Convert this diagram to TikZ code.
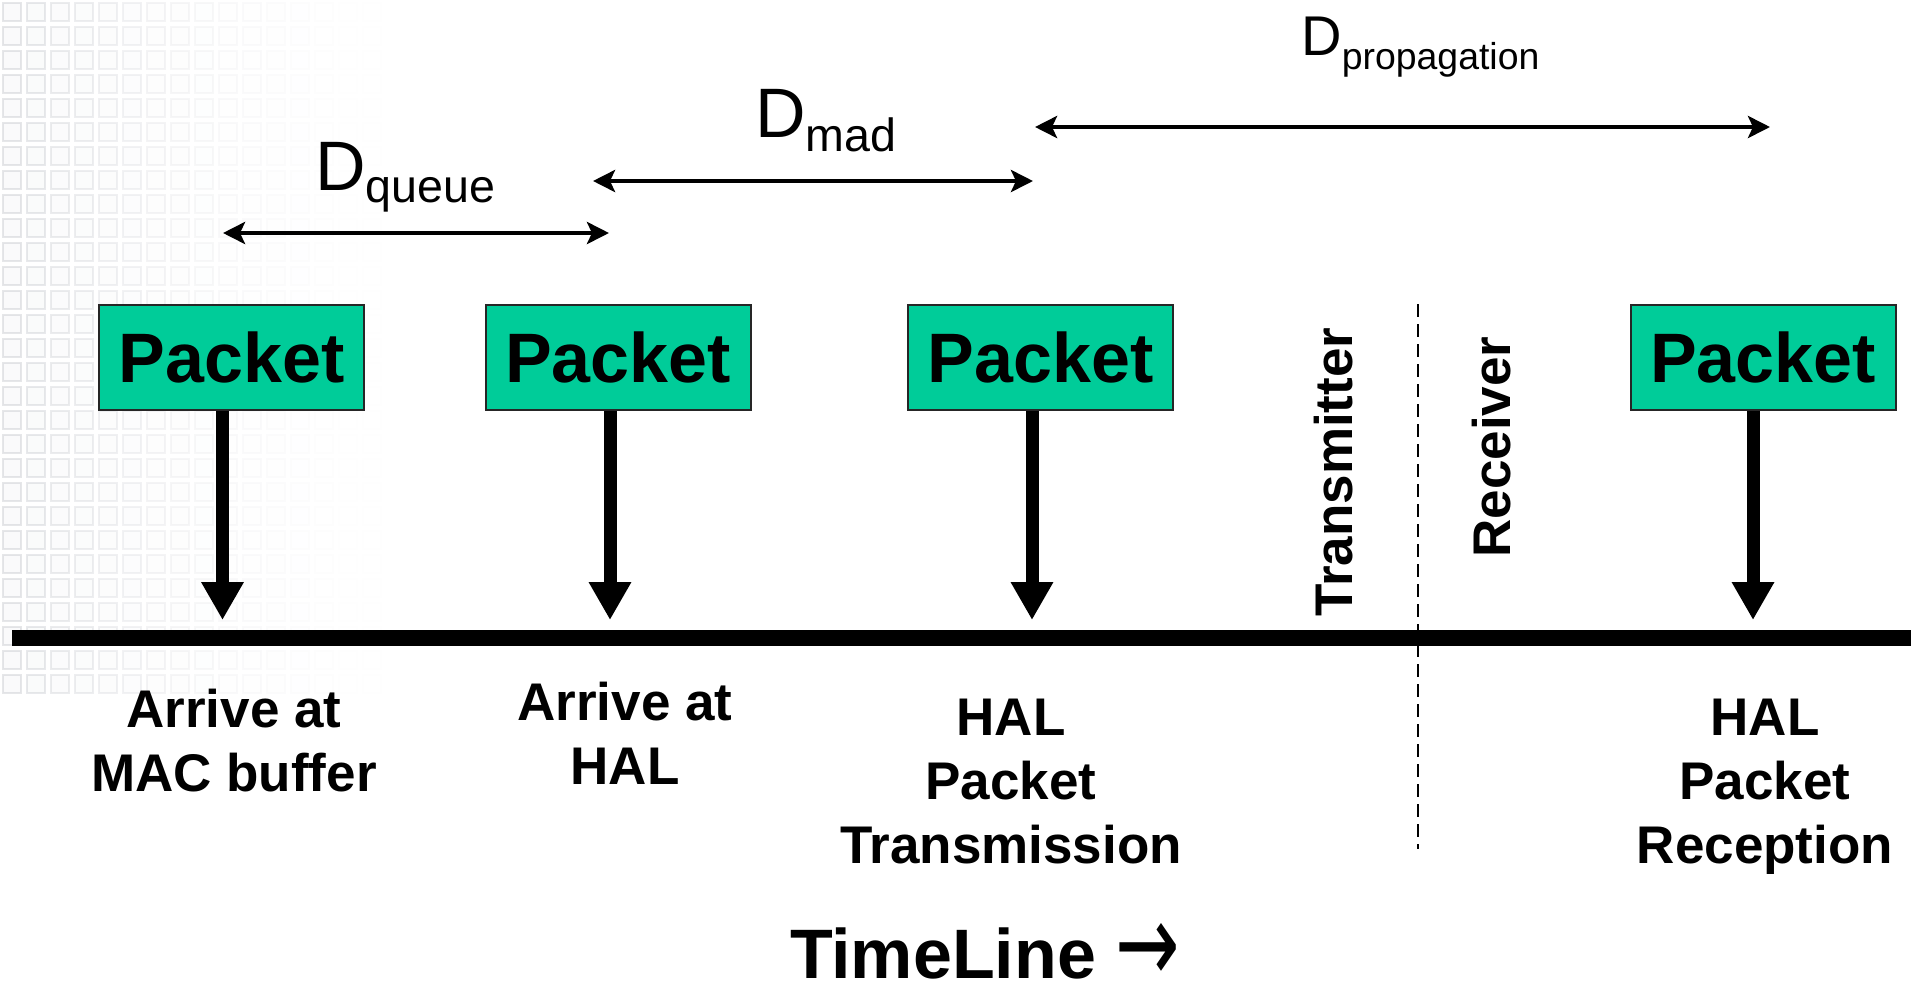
\documentclass[tikz,border=0pt]{standalone}
\usepackage{fontspec}
\setmainfont{Liberation Sans}
\newfontfamily\arrowfont{DejaVu Sans}
\usetikzlibrary{arrows.meta}
\definecolor{packetgreen}{RGB}{0,204,153}
\definecolor{tilegray}{RGB}{150,155,165}
\begin{document}
\begin{tikzpicture}[x=0.5pt,y=-0.5pt,
  packet/.style={draw=black!85, line width=1pt, fill=packetgreen,
    minimum width=132.5pt, minimum height=52.5pt, inner sep=0pt,
    font=\fontsize{35}{40}\selectfont\bfseries},
  event/.style={align=center, inner sep=0pt, anchor=north,
    font=\fontsize{26.5}{32}\selectfont\bfseries},
  side/.style={rotate=90, anchor=base, inner sep=0pt,
    font=\fontsize{26.5}{32}\selectfont\bfseries},
  drop/.style={line width=6.5pt, -{Triangle[length=19pt,width=20pt]}},
  span/.style={line width=2.4pt,
    {Stealth[length=11pt,width=11pt,inset=2.5pt]}-{Stealth[length=11pt,width=11pt,inset=2.5pt]}},
  delay/.style={anchor=base west, inner sep=0pt},
  axis/.style={line width=8pt},
  divider/.style={line width=0.9pt, dash pattern=on 6.5pt off 3.5pt}]

\useasboundingbox (0,0) rectangle (1921,986);

% faint tiled backdrop along the left edge
\foreach \i in {0,...,17}{
  \foreach \j in {0,...,28}{
    \pgfmathsetmacro{\op}{0.24*(1-\i/18)^2}
    \draw[tilegray, fill=tilegray!20, line width=0.6pt, opacity=\op]
      (\i*24+3,\j*24+3) rectangle ++(18,18);
  }}

% time axis
\coordinate (axL) at (12,638);
\coordinate (axR) at (1911,638);
\draw[axis] (axL) -- (axR);

% transmitter / receiver boundary
\coordinate (dvT) at (1418,304);
\coordinate (dvB) at (1418,849);
\draw[divider] (dvT) -- (dvB);
\node[side] (tx) at (1352,472) {Transmitter};
\node[side] (rx) at (1510,447) {Receiver};

% packets and their drop points on the axis
\node[packet] (p1) at (231.5,357.5) {Packet};
\node[packet] (p2) at (618,357.5) {Packet};
\node[packet] (p3) at (1040.5,357.5) {Packet};
\node[packet] (p4) at (1763,357.5) {Packet};

\coordinate (t1) at (222.5,620);
\coordinate (t2) at (610,620);
\coordinate (t3) at (1032,620);
\coordinate (t4) at (1753,620);

\draw[drop] (p1.south -| t1) -- (t1);
\draw[drop] (p2.south -| t2) -- (t2);
\draw[drop] (p3.south -| t3) -- (t3);
\draw[drop] (p4.south -| t4) -- (t4);

% delay spans
\coordinate (qL) at (223,233);
\coordinate (qR) at (609,233);
\coordinate (mL) at (593,181);
\coordinate (mR) at (1033,181);
\coordinate (gL) at (1035,127);
\coordinate (gR) at (1770,127);
\draw[span] (qL) -- (qR);
\draw[span] (mL) -- (mR);
\draw[span] (gL) -- (gR);

\node[delay] (dq) at (315,190)
  {\fontsize{35}{40}\selectfont D\fontsize{23.3}{28}\selectfont\raisebox{-6pt}{queue}};
\node[delay] (dm) at (755,137)
  {\fontsize{35}{40}\selectfont D\fontsize{23.3}{28}\selectfont\raisebox{-7pt}{mad}};
\node[delay] (dp) at (1301,55)
  {\fontsize{28}{32}\selectfont D\fontsize{18.7}{22}\selectfont\raisebox{-7pt}{propagation}};

% event captions
\node[event] (e1) at (234,689) {Arrive at\\MAC buffer};
\node[event] (e2) at (625,682) {Arrive at\\HAL};
\node[event] (e3) at (1011,699) {HAL\\Packet\\Transmission};
\node[event] (e4) at (1765,699) {HAL\\Packet\\Reception};

% axis title
\node[anchor=base, inner sep=0pt, font=\fontsize{35}{40}\selectfont\bfseries]
  (title) at (985,978)
  {TimeLine \raisebox{-2pt}{\scalebox{1.1}[1.6]{\arrowfont\mdseries →}}};
\end{tikzpicture}
\end{document}
